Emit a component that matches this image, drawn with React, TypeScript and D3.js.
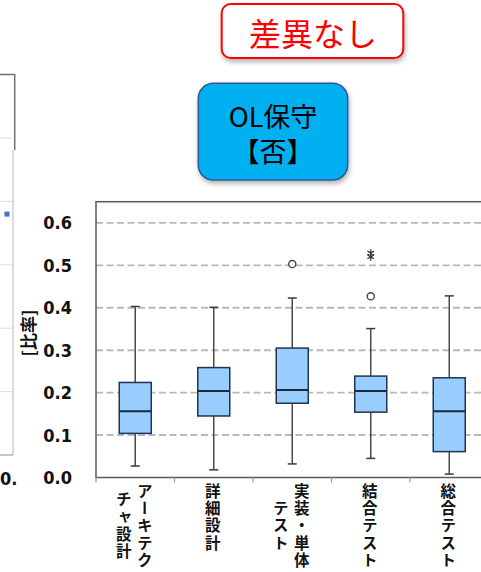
import React from "react";
import * as d3 from "d3";

// Phases on the x axis, and how each label is broken into vertical columns
const categories = ["アーキテクチャ設計", "詳細設計", "実装・単体テスト", "結合テスト", "総合テスト"];
const labelLines = [["アーキテク", "チャ設計"], ["詳細設計"], ["実装・単体", "テスト"], ["結合テスト"], ["総合テスト"]];

// Box-plot statistics per phase (ratio)
const whiskerLow = [0.027, 0.018, 0.032, 0.045, 0.008];
const q1 = [0.104, 0.145, 0.175, 0.154, 0.061];
const median = [0.156, 0.204, 0.206, 0.204, 0.156];
const q3 = [0.224, 0.259, 0.305, 0.239, 0.235];
const whiskerHigh = [0.403, 0.401, 0.423, 0.351, 0.428];

// Outliers: phase index, value, marker kind
const outlierPhase = [2, 3, 3, 3];
const outlierValue = [0.503, 0.427, 0.529, 0.52];
const outlierKind = ["circle", "circle", "star", "star"];

const yTicks = [0, 0.1, 0.2, 0.3, 0.4, 0.5, 0.6];
const yTickLabels = ["0.0", "0.1", "0.2", "0.3", "0.4", "0.5", "0.6"];

// Neighbouring chart (only its right edge is on the page)
const fragGrid = [1, 2, 3, 4, 5];
const fragPointValue = [3.8];

const W = 481;
const H = 572;

const plotLeft = 96;
const plotTop = 201.7;
const plotBottom = 477.5;
const bandW = 78.5;

export default function App() {
  const x = d3
    .scaleBand<string>()
    .domain(categories)
    .range([plotLeft, plotLeft + bandW * categories.length])
    .padding(0);
  const y = d3.scaleLinear().domain([0, 0.65]).range([plotBottom, plotTop]);
  const boxW = 32;
  const capW = 9;

  const fragY = d3.scaleLinear().domain([0, 5]).range([455, 138]);

  const starPath = d3.symbol().type(d3.symbolAsterisk).size(40)() as string;

  const numFont = "'Liberation Sans Narrow', 'DejaVu Sans Condensed', 'DejaVu Sans', sans-serif";
  const jpFont = "'Noto Sans CJK JP', sans-serif";
  const charAdv = 17.3;
  const labelTop = 483;

  return (
    <svg
      width={W}
      height={H}
      style={{ position: "absolute", left: 0, top: 0, background: "#fff" }}
    >
      <defs>
        <filter id="shadow" x="-20%" y="-20%" width="140%" height="160%">
          <feDropShadow dx="1" dy="3" stdDeviation="2.5" floodColor="#000" floodOpacity="0.3" />
        </filter>
      </defs>
      <rect x={0} y={0} width={W} height={H} fill="#fff" />

      {/* neighbouring chart edge */}
      <g>
        {fragGrid.map((g) => (
          <line key={g} x1={0} x2={13} y1={fragY(g)} y2={fragY(g)} stroke="#dcdcdc" strokeWidth={1} />
        ))}
        <line x1={13} x2={13} y1={150} y2={455} stroke="#c4c4c4" strokeWidth={1.2} />
        <line x1={0} x2={13} y1={455} y2={455} stroke="#a0a0a0" strokeWidth={1.2} />
        <path d="M0,74.5 H14.7 V150" fill="none" stroke="#6f6f6f" strokeWidth={1.5} />
        {fragPointValue.map((v, i) => (
          <rect key={i} x={4.5} y={fragY(v) - 2.5} width={5} height={5} fill="#4472C4" />
        ))}
        <text x={0} y={478} dominantBaseline="central" fontFamily={numFont} fontWeight="bold" fontSize={18} fill="#111">
          0.
        </text>
      </g>

      {/* callouts */}
      <g filter="url(#shadow)">
        <rect x={221.7} y={4} width={181.6} height={54} rx={9} fill="#fff" stroke="#ff0000" strokeWidth={2} />
      </g>
      <text x={313} y={32} textAnchor="middle" dominantBaseline="central" fontFamily={jpFont} fontSize={32} fill="#ff0000">
        差異なし
      </text>
      <g filter="url(#shadow)">
        <rect x={198.3} y={83.3} width={149.4} height={96.7} rx={15} fill="#00B0F0" stroke="#2F5597" strokeWidth={1.5} />
      </g>
      <text x={273} y={115} textAnchor="middle" dominantBaseline="central" fontFamily={jpFont} fontSize={27} fill="#000">
        OL保守
      </text>
      <text x={273} y={150.5} textAnchor="middle" dominantBaseline="central" fontFamily={jpFont} fontSize={27} fill="#000">
        【否】
      </text>

      {/* gridlines */}
      {yTicks.filter((t) => t > 0).map((t) => (
        <line
          key={t}
          x1={plotLeft}
          x2={plotLeft + bandW * categories.length}
          y1={y(t)}
          y2={y(t)}
          stroke="#b8b8b8"
          strokeWidth={1.9}
          strokeDasharray="7,3.5"
        />
      ))}

      {/* plot frame */}
      <rect
        x={plotLeft}
        y={plotTop}
        width={bandW * categories.length}
        height={plotBottom - plotTop}
        fill="none"
        stroke="#5a5a5a"
        strokeWidth={1.5}
      />

      {/* x ticks at band boundaries */}
      {categories.map((c) => (
        <line key={c} x1={x(c)!} x2={x(c)!} y1={plotBottom} y2={plotBottom + 5} stroke="#9a9a9a" strokeWidth={1.2} />
      ))}

      {/* y tick labels */}
      {yTicks.map((t, i) => (
        <text
          key={t}
          x={72}
          y={y(t)}
          textAnchor="end"
          dominantBaseline="central"
          fontFamily={numFont}
          fontWeight="bold"
          fontSize={18}
          fill="#111"
        >
          {yTickLabels[i]}
        </text>
      ))}
      <text
        transform={`translate(27.5,${333}) rotate(-90)`}
        textAnchor="middle"
        dominantBaseline="central"
        fontFamily={jpFont}
        fontWeight="bold"
        fontSize={17}
        fill="#111"
      >
        [比率]
      </text>

      {/* boxes */}
      {categories.map((c, i) => {
        const cx = x(c)! + x.bandwidth() / 2;
        return (
          <g key={c}>
            <line x1={cx} x2={cx} y1={y(whiskerHigh[i])} y2={y(q3[i])} stroke="#4a4a4a" strokeWidth={1.5} />
            <line x1={cx} x2={cx} y1={y(q1[i])} y2={y(whiskerLow[i])} stroke="#4a4a4a" strokeWidth={1.5} />
            <line x1={cx - capW / 2} x2={cx + capW / 2} y1={y(whiskerHigh[i])} y2={y(whiskerHigh[i])} stroke="#3a3a3a" strokeWidth={1.5} />
            <line x1={cx - capW / 2} x2={cx + capW / 2} y1={y(whiskerLow[i])} y2={y(whiskerLow[i])} stroke="#3a3a3a" strokeWidth={1.5} />
            <rect
              x={cx - boxW / 2}
              y={y(q3[i])}
              width={boxW}
              height={y(q1[i]) - y(q3[i])}
              fill="#99CCFF"
              stroke="#1f3550"
              strokeWidth={1.5}
            />
            <line x1={cx - boxW / 2} x2={cx + boxW / 2} y1={y(median[i])} y2={y(median[i])} stroke="#1a2a3a" strokeWidth={2} />
          </g>
        );
      })}

      {/* outliers */}
      {outlierValue.map((v, i) => {
        const c = categories[outlierPhase[i]];
        const cx = x(c)! + x.bandwidth() / 2;
        return outlierKind[i] === "circle" ? (
          <circle key={i} cx={cx} cy={y(v)} r={3.6} fill="#fff" stroke="#4a4a4a" strokeWidth={1.4} />
        ) : (
          <path key={i} d={starPath} transform={`translate(${cx},${y(v)})`} fill="none" stroke="#333" strokeWidth={1.2} />
        );
      })}

      {/* vertical category labels */}
      {categories.map((c, i) => {
        const cx = x(c)! + x.bandwidth() / 2 - 1;
        const lines = labelLines[i];
        const maxLen = d3.max(lines, (l) => l.length)!;
        const midY = labelTop + (maxLen * charAdv) / 2;
        const gap = 21;
        return lines.map((l, j) => {
          const colX = cx + ((lines.length - 1) / 2 - j) * gap;
          return (
            <text
              key={`${c}-${j}`}
              x={colX}
              y={midY}
              textAnchor="middle"
              fontFamily={jpFont}
              fontWeight="bold"
              fontSize={15.5}
              letterSpacing={1.8}
              fill="#111"
              style={{ writingMode: "vertical-rl" as any }}
            >
              {l}
            </text>
          );
        });
      })}
    </svg>
  );
}
